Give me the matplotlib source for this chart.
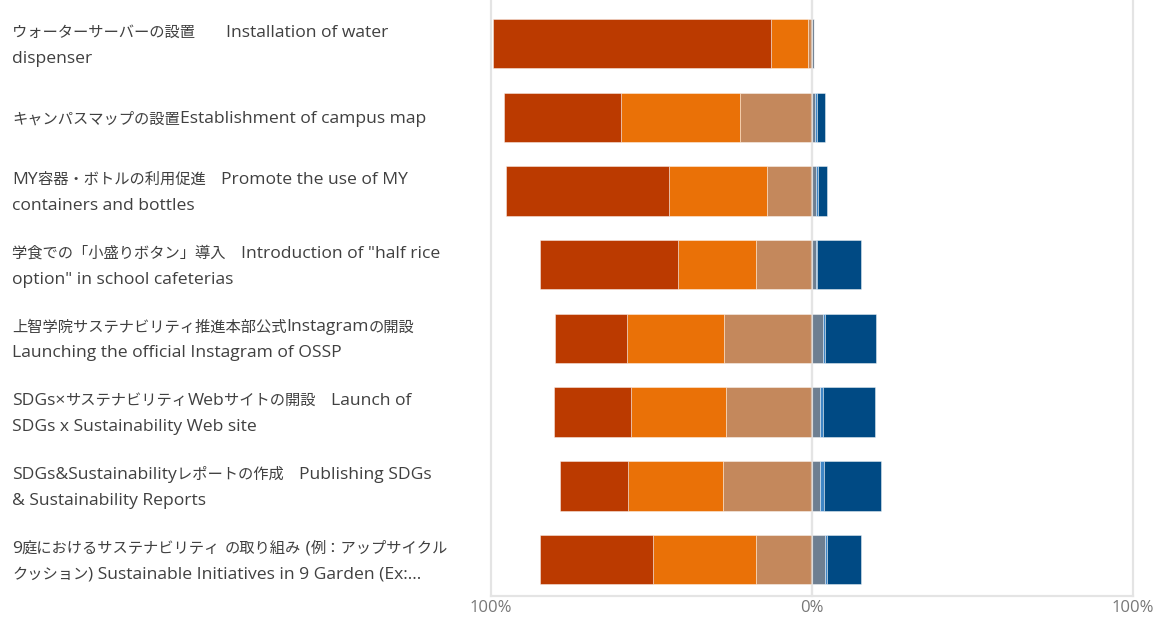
import matplotlib
matplotlib.use("Agg")
import matplotlib.pyplot as plt
import matplotlib.transforms as mtransforms
import numpy as np

plt.rcParams['font.family'] = ['Open Sans', 'Noto Sans CJK JP', 'DejaVu Sans']

labels = [
    "ウォーターサーバーの設置　　Installation of water\ndispenser",
    "キャンパスマップの設置Establishment of campus map",
    "MY容器・ボトルの利用促進　Promote the use of MY\ncontainers and bottles",
    "学食での「小盛りボタン」導入　Introduction of \"half rice\noption\" in school cafeterias",
    "上智学院サステナビリティ推進本部公式Instagramの開設\nLaunching the official Instagram of OSSP",
    "SDGs×サステナビリティWebサイトの開設　Launch of\nSDGs x Sustainability Web site",
    "SDGs&Sustainabilityレポートの作成　Publishing SDGs\n& Sustainability Reports",
    "9庭におけるサステナビリティ の取り組み (例：アップサイクル\nクッション) Sustainable Initiatives in 9 Garden (Ex:...",
]

# left side (negative direction), from outermost to innermost
seg_red = [86.5, 36.3, 50.6, 42.9, 22.6, 24.0, 21.3, 35.2]
seg_orange = [11.6, 37.1, 30.7, 24.5, 30.2, 29.7, 29.6, 32.2]
seg_tan = [1.2, 22.5, 13.9, 17.4, 27.3, 26.7, 27.7, 17.4]
# right side, from centre outward
seg_grey = [0.5, 1.0, 1.3, 1.2, 3.5, 2.6, 2.6, 4.0]
seg_lightblue = [0.2, 0.5, 0.5, 0.5, 0.7, 0.8, 1.1, 0.8]
seg_blue = [0.0, 2.7, 2.9, 13.7, 15.7, 16.3, 17.8, 10.5]

tick_vals = [-100, 0, 100]
tick_labels = ["100%", "0%", "100%"]

c_red = "#bb3a00"
c_orange = "#ea7107"
c_tan = "#c4885c"
c_grey = "#6e7f91"
c_lblue = "#3f86c6"
c_blue = "#004a84"

W, H = 1157, 618
fig = plt.figure(figsize=(W / 100, H / 100), dpi=100)
ax = fig.add_axes([491 / W, 22 / H, 642 / W, 596 / H])

y = np.arange(len(labels))
h = 0.67
ekw = dict(edgecolor=(1, 1, 1, 0.5), linewidth=0.6, zorder=3)

red = np.array(seg_red)
ora = np.array(seg_orange)
tan = np.array(seg_tan)
ax.barh(y, -tan, left=0, height=h, color=c_tan, **ekw)
ax.barh(y, -ora, left=-tan, height=h, color=c_orange, **ekw)
ax.barh(y, -red, left=-(tan + ora), height=h, color=c_red, **ekw)

gr = np.array(seg_grey)
lb = np.array(seg_lightblue)
bl = np.array(seg_blue)
ax.barh(y, gr, left=0, height=h, color=c_grey, **ekw)
ax.barh(y, lb, left=gr, height=h, color=c_lblue, **ekw)
ax.barh(y, bl, left=gr + lb, height=h, color=c_blue, **ekw)

ax.set_xlim(-100, 100)
ax.set_ylim(7.495, -0.593)

for v in tick_vals:
    ax.axvline(v, color="#e4e4e4", lw=1.6, zorder=1, clip_on=False)
ax.axvline(0, color="#e4e4e4", lw=1.6, zorder=4, alpha=0.6)

for s in ["top", "left", "right"]:
    ax.spines[s].set_visible(False)
ax.spines["bottom"].set_color("#e4e4e4")
ax.spines["bottom"].set_linewidth(1.6)

ax.set_yticks([])
ax.set_xticks(tick_vals)
ax.set_xticklabels(tick_labels, color="#777777", fontsize=12)
ax.tick_params(axis="x", length=0, pad=3)

# ---- mixed-script labels: CJK and Latin runs drawn at different sizes ----
CJK_SIZE = 11.0
LAT_SIZE = 12.6
TXT_COLOR = "#404040"
LINE_GAP = 26      # px between line centres
BASE_OFF = 6       # px from line centre down to baseline
ident = mtransforms.IdentityTransform()
renderer = fig.canvas.get_renderer()


def is_cjk(ch):
    o = ord(ch)
    return (0x3000 <= o <= 0x9FFF) or (0xFF00 <= o <= 0xFFEF) or ch in "・"


def split_runs(s):
    runs = []
    for ch in s:
        c = is_cjk(ch)
        if runs and runs[-1][0] == c:
            runs[-1][1] += ch
        else:
            runs.append([c, ch])
    return runs


def run_props(cjk):
    if cjk:
        return dict(fontsize=CJK_SIZE, family=['Noto Sans CJK JP', 'DejaVu Sans'])
    return dict(fontsize=LAT_SIZE, family=['Open Sans', 'Noto Sans CJK JP', 'DejaVu Sans'])


def text_width(s, props):
    t1 = fig.text(0, 0, s + "x", transform=ident, **props)
    t2 = fig.text(0, 0, "x", transform=ident, **props)
    w = t1.get_window_extent(renderer).width - t2.get_window_extent(renderer).width
    t1.remove()
    t2.remove()
    return w


x0 = 12
for i, lab in enumerate(labels):
    yc_disp = ax.transData.transform((0, i))[1]
    lines = lab.split("\n")
    n = len(lines)
    for k, line in enumerate(lines):
        centre = yc_disp - (k - (n - 1) / 2) * LINE_GAP
        base = centre - BASE_OFF
        x = x0
        for cjk, run in split_runs(line):
            props = run_props(cjk)
            fig.text(x, base, run, transform=ident, ha="left", va="baseline",
                     color=TXT_COLOR, **props)
            x += text_width(run, props)

fig.savefig("out.png", dpi=100)
